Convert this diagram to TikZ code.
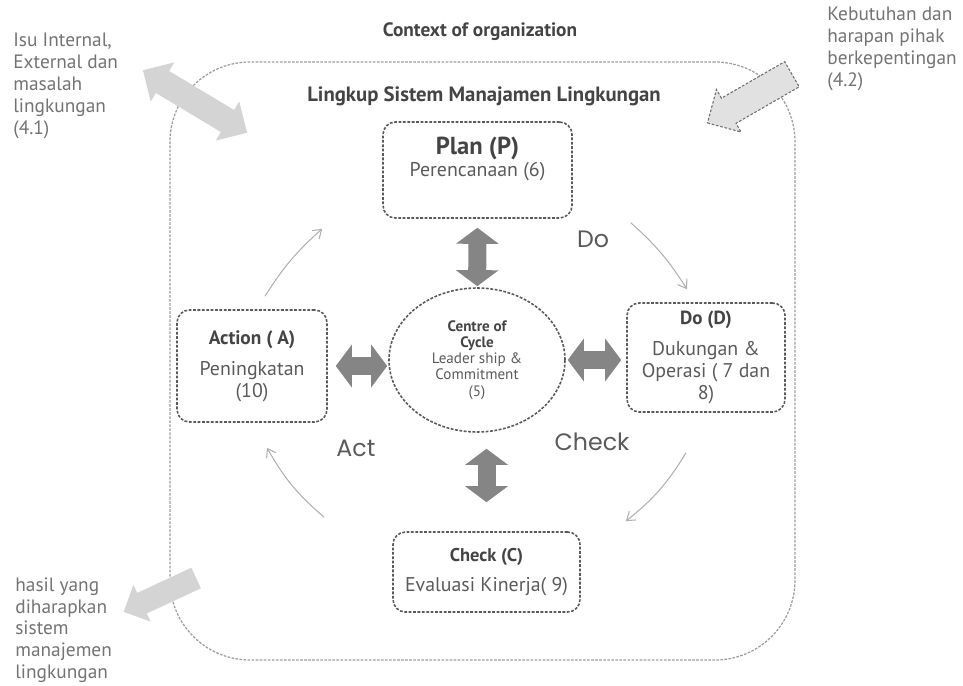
\documentclass[tikz,border=0pt]{standalone}
\usepackage{fontspec}
\setmainfont{PT Sans}
\newfontfamily\geofont{Poppins}
\usetikzlibrary{arrows.meta,positioning,shapes.geometric,shapes.arrows}
\definecolor{Ink}{HTML}{444444}
\definecolor{Body}{HTML}{5A5A5A}
\definecolor{Note}{HTML}{737373}
\definecolor{Frame}{HTML}{9C9C9C}
\definecolor{Fat}{HTML}{858585}
\definecolor{Pale}{HTML}{D4D4D4}
\definecolor{Thin}{HTML}{B0B0B0}
\tikzset{stage/.style={draw=Body,line width=0.9pt,dash pattern=on 1.6pt off 0.9pt,rounded corners=2.5mm,align=center,text=Body,font=\fontsize{11.3}{12.5}\selectfont,inner sep=1mm},
  fat/.style={line width=3.6mm,draw=Fat,{Triangle[width=8.4mm,length=3.2mm]}-{Triangle[width=8.4mm,length=3.2mm]}},
  cycarrow/.style={-{Straight Barb[length=1.6mm,width=2.2mm]},draw=Thin,line width=0.6pt},
  outnote/.style={align=left,text=Note,font=\fontsize{11}{12.5}\selectfont,inner sep=0pt},
  paleshape/.style={fill=Pale,inner xsep=0pt,minimum width=0pt},
  stepword/.style={text=Body,font=\geofont\fontsize{13.5}{15}\selectfont},
  boxtitle/.style={font=\bfseries\fontsize{10.5}{12}\selectfont}}

\begin{document}
\begin{tikzpicture}
\useasboundingbox (0,0) rectangle (19.26,-13.72);
\node[font=\bfseries\fontsize{11}{12}\selectfont,text=Ink] (context) at (9.6,-0.64) {Context of organization};
\node[draw=Frame,line width=0.7pt,dash pattern=on 1.5pt off 0.8pt,rounded corners=16mm,minimum width=12.5cm,minimum height=11.96cm] (scopebox) at (9.65,-7.22) {};
\node[font=\bfseries\fontsize{11.8}{13}\selectfont,text=Ink] (lingkup) at (9.68,-1.92) {Lingkup Sistem Manajamen Lingkungan};

% the four stages
\node[stage,minimum width=3.78cm,minimum height=1.92cm] (plan) at (9.55,-3.4) {{\bfseries\fontsize{14}{15}\selectfont\color{Ink}Plan (P)}\\Perencanaan (6)\\[3pt]\mbox{}};
\node[stage,minimum width=3cm,minimum height=2.24cm] (action) at (5.04,-7.32) {{\bfseries\fontsize{11}{12}\selectfont\color{Ink}Action ( A)}\\[5pt]Peningkatan\\(10)};
\node[stage,minimum width=3.16cm,minimum height=2.18cm] (do) at (14.12,-7.15) {{\bfseries\fontsize{10.8}{12}\selectfont\color{Ink}Do (D)}\\[5pt]Dukungan \&\\Operasi ( 7 dan\\8)};
\node[stage,minimum width=3.74cm,minimum height=1.6cm] (check) at (9.73,-11.44) {{\bfseries\fontsize{10.5}{12}\selectfont\color{Ink}Check (C)}\\[5pt]Evaluasi Kinerja( 9)};
\node[stage,ellipse,rounded corners=0pt,inner sep=0pt,minimum width=3.52cm,minimum height=2.88cm,font=\fontsize{8.6}{9.2}\selectfont] (centre) at (9.54,-7.2) {{\bfseries\color{Ink}Centre of}\\{\bfseries\color{Ink}Cycle}\\Leader ship \&\\Commitment\\(5)};

% fat arrows to the centre
\draw[fat,shorten <=0.18cm,shorten >=0.02cm] (plan) -- (centre);
\draw[fat,shorten <=0.16cm,shorten >=0.02cm] (action.east) -- (action.east -| centre.west);
\draw[fat,shorten <=0.04cm,shorten >=0.1cm] (centre.east) -- (centre.east -| do.west);
\draw[fat,shorten <=0.32cm,shorten >=0.58cm] (centre.south -| check.north) -- (check.north);

% the cycle
\draw[cycarrow] ([shift={(0.26,0.26)}]action.north) to[bend left=8] ([shift={(-1.2,-0.2)}]plan.south west);
\draw[cycarrow] ([shift={(1.16,-0.08)}]plan.south east) to[bend left=8] ([shift={(-0.38,0.26)}]do.north);
\draw[cycarrow] ([shift={(-0.4,-0.8)}]do.south) to[bend left=10] ([shift={(0.9,0.2)}]check.north east);
\draw[cycarrow] ([shift={(-1.36,0.28)}]check.north west) to[bend left=10] ([shift={(0.3,-0.5)}]action.south);
\node[stepword] (doword) at (11.86,-4.78) {Do};
\node[stepword] (checkword) at (11.84,-8.84) {Check};
\node[stepword] (actword) at (7.12,-8.96) {Act};

% outside
\node[outnote,anchor=north west] (issue) at (0.26,-0.66) {Isu Internal,\\External dan\\masalah\\lingkungan\\(4.1)};
\node[outnote,anchor=north west] (needs) at (16.54,-0.14) {Kebutuhan dan\\harapan pihak\\berkepentingan\\(4.2)};
\node[outnote,anchor=north west] (result) at (0.3,-11.54) {hasil yang\\diharapkan\\sistem\\manajemen\\lingkungan};
\node[paleshape,double arrow,inner ysep=0.25cm,double arrow head extend=0.2cm,minimum height=2.43cm,rotate=-31] (issuearrow) at (3.9,-2.03) {};
\node[paleshape,single arrow,inner ysep=0.28cm,single arrow head extend=0.2cm,minimum height=1.95cm,rotate=210,draw=Frame!70!black,dash pattern=on 1.5pt off 1pt,line width=0.6pt,fill=Pale!70] (needarrow) at (15.12,-1.9) {};
\node[paleshape,single arrow,inner ysep=0.22cm,single arrow head extend=0.18cm,minimum height=1.6cm,rotate=205] (resultarrow) at (3.3,-11.85) {};
\end{tikzpicture}
\end{document}
